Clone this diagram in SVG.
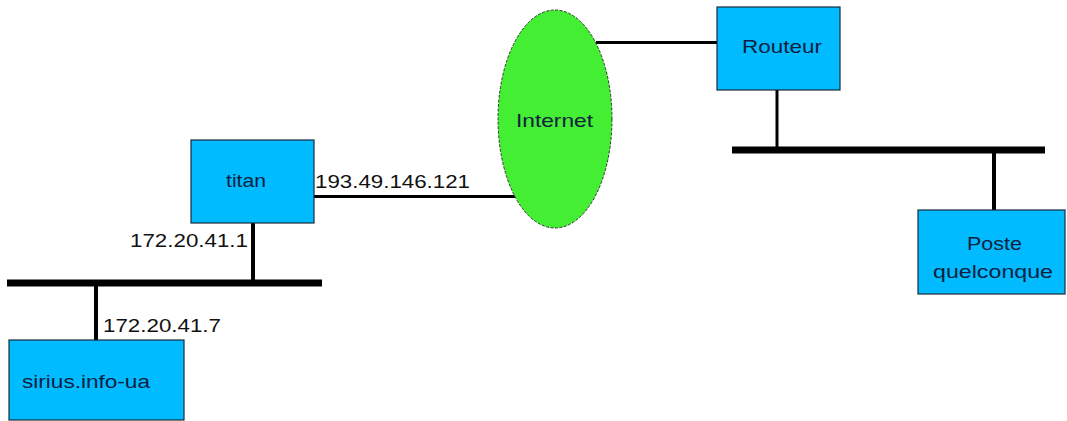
<svg xmlns="http://www.w3.org/2000/svg" width="1067" height="421" viewBox="0 0 1067 421">
  <style>
    .host { fill: #00bbff; stroke: #1a2a3a; stroke-width: 1.2; }
    .cloud { fill: #44ee33; stroke: #2a3a2a; stroke-width: 1; stroke-dasharray: 3 1.5; }
    .name { font-family: "Liberation Sans", Arial, sans-serif; font-size: 18.5px; fill: #102040; }
    .addr { font-family: "Liberation Sans", Arial, sans-serif; font-size: 18.5px; fill: #111; }
    .bus { stroke: #000; stroke-width: 7; fill: none; }
    .link { stroke: #000; stroke-width: 3; fill: none; }
    .drop { stroke: #000; stroke-width: 4; fill: none; }
  </style>
  <rect width="1067" height="421" fill="#fff"/>

  <!-- cabling -->
  <g id="connectors">
    <line class="bus" x1="7" y1="283" x2="322" y2="283"/>
    <line class="drop" x1="253" y1="223" x2="253" y2="283"/>
    <line class="drop" x1="96" y1="283" x2="96" y2="340"/>
    <line class="link" x1="314" y1="196.5" x2="515" y2="196.5"/>
    <line class="link" x1="596" y1="42.5" x2="717" y2="42.5"/>
    <line class="bus" x1="732" y1="150" x2="1045" y2="150"/>
    <line class="link" x1="777" y1="90" x2="777" y2="150"/>
    <line class="drop" x1="994" y1="150" x2="994" y2="210"/>
  </g>

  <g id="titan">
    <rect class="host" x="191" y="140" width="123" height="83"/>
    <text class="name" x="226" y="187" textLength="40" lengthAdjust="spacingAndGlyphs">titan</text>
    <text class="addr" x="315" y="188" textLength="155" lengthAdjust="spacingAndGlyphs">193.49.146.121</text>
    <text class="addr" x="130" y="247" textLength="118" lengthAdjust="spacingAndGlyphs">172.20.41.1</text>
  </g>

  <g id="sirius">
    <rect class="host" x="9" y="340" width="175" height="80"/>
    <text class="name" x="22" y="388" textLength="128" lengthAdjust="spacingAndGlyphs">sirius.info-ua</text>
    <text class="addr" x="103" y="332" textLength="118" lengthAdjust="spacingAndGlyphs">172.20.41.7</text>
  </g>

  <g id="internet">
    <ellipse class="cloud" cx="555" cy="119" rx="57" ry="109"/>
    <text class="name" x="516" y="127" textLength="77" lengthAdjust="spacingAndGlyphs">Internet</text>
  </g>

  <g id="routeur">
    <rect class="host" x="717" y="7" width="123" height="83"/>
    <text class="name" x="742" y="53" textLength="80" lengthAdjust="spacingAndGlyphs">Routeur</text>
  </g>

  <g id="poste">
    <rect class="host" x="918" y="210" width="147" height="84"/>
    <text class="name" x="967" y="250" textLength="55" lengthAdjust="spacingAndGlyphs">Poste</text>
    <text class="name" x="933" y="278" textLength="120" lengthAdjust="spacingAndGlyphs">quelconque</text>
  </g>
</svg>
